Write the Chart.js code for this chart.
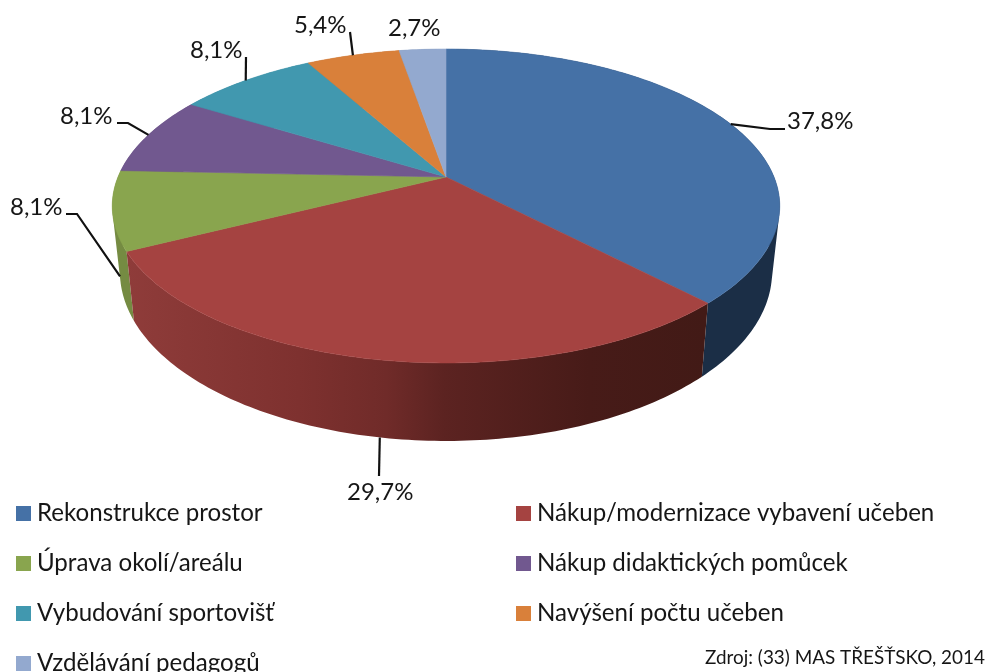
<!DOCTYPE html>
<html>
<head>
<meta charset="utf-8">
<title>Chart</title>
<script src="https://cdn.jsdelivr.net/npm/chart.js@4"></script>
<style>
  html, body { margin: 0; padding: 0; background: #fff; overflow: hidden; }
  #wrap { width: 985px; height: 672px; }
</style>
</head>
<body>
<div id="wrap"><canvas id="pie" width="985" height="672"></canvas></div>
<script>
const categories = [
  'Rekonstrukce prostor',
  'Nákup/modernizace vybavení učeben',
  'Úprava okolí/areálu',
  'Nákup didaktických pomůcek',
  'Vybudování sportovišť',
  'Navýšení počtu učeben',
  'Vzdělávání pedagogů'
];
const values = [37.8, 29.7, 8.1, 8.1, 8.1, 5.4, 2.7];
const valueLabels = ['37,8%', '29,7%', '8,1%', '8,1%', '8,1%', '5,4%', '2,7%'];
const topColors = ['#4571a6', '#a54341', '#89a54e', '#71588f', '#4198af', '#d9803a', '#93a9cf'];
const wallColors = ['#1b2e46', null, '#758b42', '#5c4774', '#357c8e', '#b0682f', '#7789a8'];
const source = 'Zdroj: (33) MAS TŘEŠŤSKO, 2014';

// perspective of the tilted pie
const K = 0.1847, SX = 328 / 177, SY = 151.6 / 177, DEPTH = 63.6, BOTTOM_X = 0.977;

function project(arc, a, low) {
  const c = Math.cos(a), s = Math.sin(a), w = 1 - K * s;
  const x = SX * arc.outerRadius * c / w;
  const y = SY * arc.outerRadius * s / w;
  return low ? [arc.x + x * BOTTOM_X, arc.y + y + DEPTH / w] : [arc.x + x, arc.y + y];
}

function edge(ctx, arc, from, to) {
  const n = Math.max(2, Math.ceil(Math.abs(to - from) * 60));
  for (let i = 0; i <= n; i++) {
    const p = project(arc, from + (to - from) * i / n, false);
    ctx.lineTo(p[0], p[1]);
  }
}

// wall is a strip of small quads, all wound the same way so the fill has no holes
function wall(ctx, arc) {
  const from = arc.startAngle, to = arc.endAngle;
  const n = Math.max(2, Math.ceil((to - from) * 60));
  for (let i = 0; i < n; i++) {
    const a = from + (to - from) * i / n, b = from + (to - from) * (i + 1) / n;
    const q = [project(arc, a, false), project(arc, b, false), project(arc, b, true), project(arc, a, true)];
    let area = 0;
    q.forEach((p, j) => {
      const r = q[(j + 1) % 4];
      area += p[0] * r[1] - r[0] * p[1];
    });
    if (area < 0) q.reverse();
    q.forEach((p, j) => j ? ctx.lineTo(p[0], p[1]) : ctx.moveTo(p[0], p[1]));
    ctx.closePath();
  }
}

// label box anchor + elbow points of the leader line, in slice order
const labelSpots = [
  { x: 787, y: 129, elbow: [[785, 129], [770, 129]] },
  { x: 347, y: 500, elbow: [[379, 476]] },
  { x: 10, y: 215, elbow: [[66, 214], [77, 214]] },
  { x: 60, y: 124, elbow: [[117, 123], [128, 123]] },
  { x: 190, y: 58, elbow: [[246, 57]] },
  { x: 294, y: 33, elbow: [[350, 32]] },
  { x: 388, y: 36, elbow: null }
];
const FONT = '"Lato", sans-serif';
const INK = '#161616';

const pie3d = {
  id: 'pie3d',
  beforeDatasetsDraw(chart) {
    const ctx = chart.ctx;
    const arcs = chart.getDatasetMeta(0).data;
    ctx.save();

    // side walls, back ones first
    const order = arcs.map((a, i) => i).sort((p, q) =>
      Math.sin((arcs[p].startAngle + arcs[p].endAngle) / 2) - Math.sin((arcs[q].startAngle + arcs[q].endAngle) / 2));
    order.forEach(i => {
      ctx.beginPath();
      wall(ctx, arcs[i]);
      if (wallColors[i]) {
        ctx.fillStyle = wallColors[i];
      } else {
        const g = ctx.createLinearGradient(125, 0, 705, 0);
        g.addColorStop(0, '#8f3c3a');
        g.addColorStop(0.3, '#7e312f');
        g.addColorStop(0.45, '#702b29');
        g.addColorStop(0.55, '#5c2321');
        g.addColorStop(0.8, '#471b18');
        g.addColorStop(1, '#421a16');
        ctx.fillStyle = g;
      }
      ctx.fill();
    });

    // top faces
    arcs.forEach((arc, i) => {
      ctx.beginPath();
      ctx.moveTo(arc.x, arc.y);
      edge(ctx, arc, arc.startAngle, arc.endAngle);
      ctx.closePath();
      ctx.fillStyle = topColors[i];
      ctx.strokeStyle = topColors[i];
      ctx.lineWidth = 0.6;
      ctx.fill();
      ctx.stroke();
    });

    // leader lines and value labels
    ctx.fillStyle = INK;
    ctx.textBaseline = 'alphabetic';
    ctx.textAlign = 'left';
    ctx.font = '24px ' + FONT;
    arcs.forEach((arc, i) => {
      const spot = labelSpots[i];
      ctx.fillText(valueLabels[i], spot.x, spot.y);
      if (!spot.elbow) return;
      const mid = (arc.startAngle + arc.endAngle) / 2;
      const tip = project(arc, mid, Math.sin(mid) > 0);
      ctx.beginPath();
      spot.elbow.forEach((p, j) => j ? ctx.lineTo(p[0], p[1]) : ctx.moveTo(p[0], p[1]));
      ctx.lineTo(tip[0], tip[1]);
      ctx.strokeStyle = '#111';
      ctx.lineWidth = 2.2;
      ctx.stroke();
    });

    // legend, two columns filled row by row
    categories.forEach((name, i) => {
      const col = i % 2, row = Math.floor(i / 2);
      const bx = col ? 516 : 16, by = 506 + row * 50;
      ctx.fillStyle = topColors[i];
      ctx.fillRect(bx, by, 15, 15);
      ctx.fillStyle = INK;
      ctx.font = '24.1px ' + FONT;
      ctx.fillText(name, col ? 537 : 37, 521 + row * 50);
    });

    ctx.font = '18.9px ' + FONT;
    ctx.fillText(source, 705, 664);

    ctx.restore();
    return false;
  }
};

new Chart(document.getElementById('pie'), {
  type: 'pie',
  data: {
    labels: categories,
    datasets: [{ data: values, backgroundColor: topColors, borderWidth: 0 }]
  },
  options: {
    responsive: false,
    animation: false,
    layout: { padding: { left: 0, right: 93, top: 0, bottom: 318 } },
    plugins: { legend: { display: false }, tooltip: { enabled: false } }
  },
  plugins: [pie3d]
});
</script>
</body>
</html>
